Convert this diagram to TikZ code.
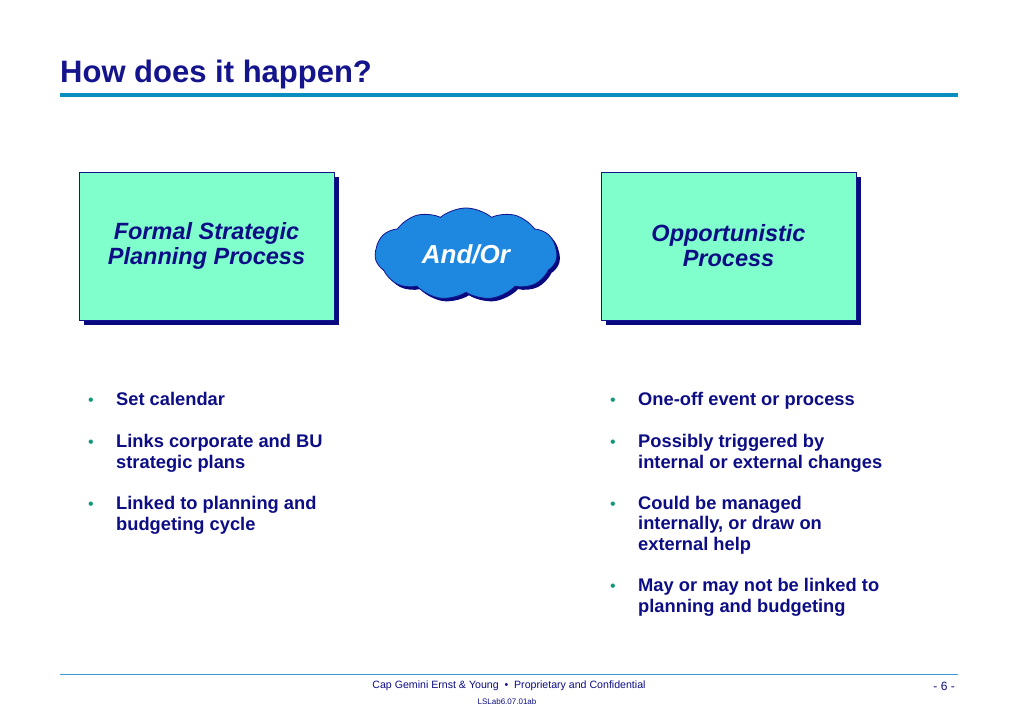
\documentclass[tikz,border=0pt]{standalone}
\usepackage{fontspec}
\setmainfont{Liberation Sans}
\usetikzlibrary{shapes.symbols,shadows}
\definecolor{navy}{HTML}{14148C}
\definecolor{txtblue}{HTML}{0D0D85}
\definecolor{boxfill}{HTML}{80FFCC}
\definecolor{shadowblue}{HTML}{0A0A80}
\definecolor{cloudfill}{HTML}{1E88E0}
\definecolor{rulecol}{HTML}{0A8DBF}
\definecolor{footrule}{HTML}{3A9AD0}
\definecolor{bulletgreen}{HTML}{11997A}
\begin{document}
\begin{tikzpicture}[x=1pt,y=-1pt,
  procbox/.style={draw=navy, line width=0.8pt, fill=boxfill, minimum width=255pt, minimum height=148pt,
    align=center, text=txtblue, font=\fontsize{23.5}{25}\selectfont\bfseries\itshape,
    drop shadow={shadow xshift=5pt, shadow yshift=-5pt, fill=shadowblue, opacity=1}},
  bul/.style={anchor=base west, inner sep=0pt, text=bulletgreen, font=\fontsize{16}{18}\selectfont},
  item/.style={anchor=base west, inner sep=0pt, align=left, text=txtblue, font=\fontsize{18.3}{20.5}\selectfont\bfseries},
  foot/.style={inner sep=0pt, text=txtblue}
]
\useasboundingbox (0,0) rectangle (1023,708);
\fill[white] (0,0) rectangle (1023,708);
% title
\node[anchor=base west, inner sep=0pt, text=navy, font=\fontsize{31}{34}\selectfont\bfseries] (title) at (60,83) {How does it happen?};
\coordinate (r1) at (60,95.5);
\coordinate (r2) at (958,95.5);
\draw[rulecol, line width=4pt] (r1) -- (r2);
% boxes
\node[procbox] (boxL) at (206.5,246) {Formal Strategic\\Planning Process};
\node[procbox] (boxR) at (728.5,246) {Opportunistic\\Process};
% cloud
\node[cloud, cloud puffs=11, cloud puff arc=80, aspect=2.3, draw=navy, line width=0.8pt, fill=cloudfill,
  minimum width=182pt, minimum height=92pt, inner sep=0pt,
  drop shadow={shadow xshift=3pt, shadow yshift=-3pt, fill=shadowblue, opacity=1},
  text=white, font=\fontsize{26}{28}\selectfont\bfseries\itshape] (cloud) at (466,254) {And/Or};
% left bullets (item nodes anchored at the baseline of their last line)
\node[bul] (bl1) at (88,406) {\textbullet};
\node[item] (tl1) at (116,406) {Set calendar};
\node[bul] (bl2) at (88,447) {\textbullet};
\node[item] (tl2) at (116,468) {Links corporate and BU\\strategic plans};
\node[bul] (bl3) at (88,509) {\textbullet};
\node[item] (tl3) at (116,530) {Linked to planning and\\budgeting cycle};
% right bullets
\node[bul] (br1) at (610,406) {\textbullet};
\node[item] (tr1) at (638,406) {One-off event or process};
\node[bul] (br2) at (610,447) {\textbullet};
\node[item] (tr2) at (638,468) {Possibly triggered by\\internal or external changes};
\node[bul] (br3) at (610,509) {\textbullet};
\node[item] (tr3) at (638,550) {Could be managed\\internally, or draw on\\external help};
\node[bul] (br4) at (610,591) {\textbullet};
\node[item] (tr4) at (638,612) {May or may not be linked to\\planning and budgeting};
% footer
\coordinate (f1) at (60,674);
\coordinate (f2) at (958,674);
\draw[footrule, line width=1pt] (f1) -- (f2);
\node[foot, anchor=base, font=\fontsize{10.6}{12}\selectfont] (ft1) at (509,688) {Cap Gemini Ernst \& Young \ \textbullet\ \ Proprietary and Confidential};
\node[foot, anchor=base, font=\fontsize{8}{10}\selectfont] (ft2) at (507,704) {LSLab6.07.01ab};
\node[foot, anchor=base east, font=\fontsize{12}{14}\selectfont] (pg) at (955,690) {- 6 -};
\end{tikzpicture}
\end{document}
